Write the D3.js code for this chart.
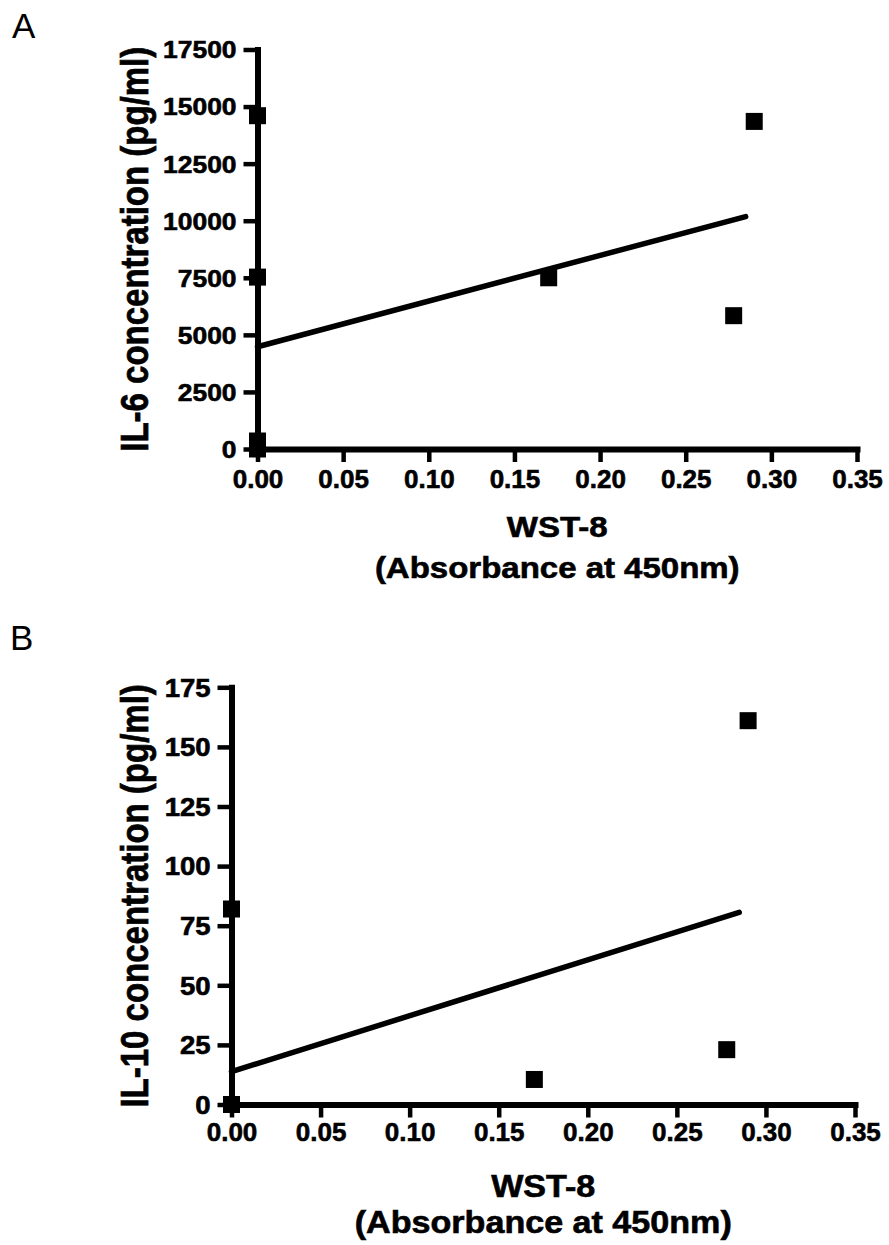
<!DOCTYPE html>
<html>
<head>
<meta charset="utf-8">
<script src="https://cdn.jsdelivr.net/npm/d3@7"></script>
<style>
  html, body { margin: 0; background: #fff; }
  svg { display: block; }
  text { font-family: "Liberation Sans", Arial, Helvetica, sans-serif; fill: #000; }
  text.heavy { stroke: #000; stroke-width: 0.6px; paint-order: stroke; }
</style>
</head>
<body>
<svg id="chart" width="889" height="1245"></svg>
<script>
// Shared x axis: WST-8 absorbance
const xTicks = [0, 0.05, 0.10, 0.15, 0.20, 0.25, 0.30, 0.35];
const xTitleLines = ["WST-8", "(Absorbance at 450nm)"];

// Panel A: IL-6
const il6Ticks = [0, 2500, 5000, 7500, 10000, 12500, 15000, 17500];
const il6X = [0, 0, 0, 0, 0.17, 0.278, 0.29];
const il6Y = [14600, 7530, 350, 0, 7500, 5840, 14350];
const il6FitX = [0, 0.285];
const il6FitY = [4480, 10180];

// Panel B: IL-10
const il10Ticks = [0, 25, 50, 75, 100, 125, 150, 175];
const il10X = [0, 0, 0.17, 0.278, 0.29];
const il10Y = [82, 0, 10.5, 23, 161];
const il10FitX = [0, 0.285];
const il10FitY = [13.8, 80.6];

const panels = [
  {
    letter: "A", letterPos: [12, 38],
    yTitle: "IL-6 concentration (pg/ml)",
    yTicks: il6Ticks, xs: il6X, ys: il6Y, fitX: il6FitX, fitY: il6FitY,
    xRange: [257.5, 857], yRange: [449, 49.5],
    xLabelY: 39, xTitleBase: [537, 578], xTitleSize: 30,
    yTickSize: 24, yTitleX: 148
  },
  {
    letter: "B", letterPos: [10, 650],
    yTitle: "IL-10 concentration (pg/ml)",
    yTicks: il10Ticks, xs: il10X, ys: il10Y, fitX: il10FitX, fitY: il10FitY,
    xRange: [231.5, 855], yRange: [1104.5, 687.3],
    xLabelY: 36.5, xTitleBase: [1197, 1233], xTitleSize: 31,
    yTickSize: 25, yTitleX: 148
  }
];

const svg = d3.select("#chart");
svg.append("rect").attr("width", 889).attr("height", 1245).attr("fill", "#fff");

function drawPanel(p) {
  const yTicks = p.yTicks;
  const x = d3.scaleLinear().domain([0, d3.max(xTicks)]).range(p.xRange);
  const y = d3.scaleLinear().domain([0, d3.max(yTicks)]).range(p.yRange);
  const g = svg.append("g");

  // panel letter
  g.append("text")
    .attr("x", p.letterPos[0]).attr("y", p.letterPos[1])
    .attr("font-size", 35)
    .text(p.letter);

  // regression line
  const fit = p.fitX.map((v, i) => [v, p.fitY[i]]);
  g.append("path")
    .datum(fit)
    .attr("fill", "none")
    .attr("stroke", "#000")
    .attr("stroke-width", 5.5)
    .attr("stroke-linecap", "round")
    .attr("d", d3.line().x(d => x(d[0])).y(d => y(d[1])));

  // y axis
  const gy = g.append("g")
    .attr("transform", `translate(${p.xRange[0]},0)`)
    .call(d3.axisLeft(y).tickValues(yTicks).tickSize(14).tickSizeOuter(0).tickFormat(d3.format("d")));
  gy.attr("font-size", null).attr("font-family", null);
  gy.select(".domain").attr("stroke-width", 6).attr("stroke-linecap", "square");
  gy.selectAll(".tick line").attr("stroke-width", 4.5);
  gy.selectAll(".tick text")
    .attr("class", "heavy")
    .attr("x", 0).attr("dy", null)
    .attr("font-size", p.yTickSize)
    .attr("font-weight", "bold")
    .attr("transform", `translate(-21, ${p.yTickSize * 0.35}) scale(1.1,1)`);

  // x axis
  const gx = g.append("g")
    .attr("transform", `translate(0,${p.yRange[0]})`)
    .call(d3.axisBottom(x).tickValues(xTicks).tickSize(13).tickSizeOuter(0).tickFormat(d3.format(".2f")));
  gx.attr("font-size", null).attr("font-family", null);
  gx.select(".domain").attr("stroke-width", 6).attr("stroke-linecap", "square");
  gx.selectAll(".tick line").attr("stroke-width", 4.5);
  gx.selectAll(".tick text")
    .attr("class", "heavy")
    .attr("y", p.xLabelY).attr("dy", null)
    .attr("font-size", 26)
    .attr("font-weight", "bold");

  // data points: filled squares
  const pts = p.xs.map((v, i) => [v, p.ys[i]]);
  const s = 17;
  g.selectAll("rect.pt")
    .data(pts)
    .join("rect")
    .attr("class", "pt")
    .attr("x", d => x(d[0]) - s / 2)
    .attr("y", d => y(d[1]) - s / 2)
    .attr("width", s).attr("height", s)
    .attr("fill", "#000");

  // x axis title (two lines)
  const cx = (p.xRange[0] + p.xRange[1]) / 2;
  xTitleLines.forEach((t, i) => {
    g.append("text")
      .attr("class", "heavy")
      .attr("text-anchor", "middle")
      .attr("font-size", p.xTitleSize)
      .attr("font-weight", "bold")
      .attr("transform", `translate(${cx},${p.xTitleBase[i]}) scale(1.1,1)`)
      .text(t);
  });

  // y axis title
  const cy = (p.yRange[0] + p.yRange[1]) / 2;
  g.append("text")
    .attr("class", "heavy")
    .attr("text-anchor", "middle")
    .attr("font-size", 33)
    .attr("font-weight", "bold")
    .attr("transform", `translate(${p.yTitleX},${cy}) rotate(-90) scale(1,1.2)`)
    .text(p.yTitle);
}

panels.forEach(drawPanel);
</script>
</body>
</html>
